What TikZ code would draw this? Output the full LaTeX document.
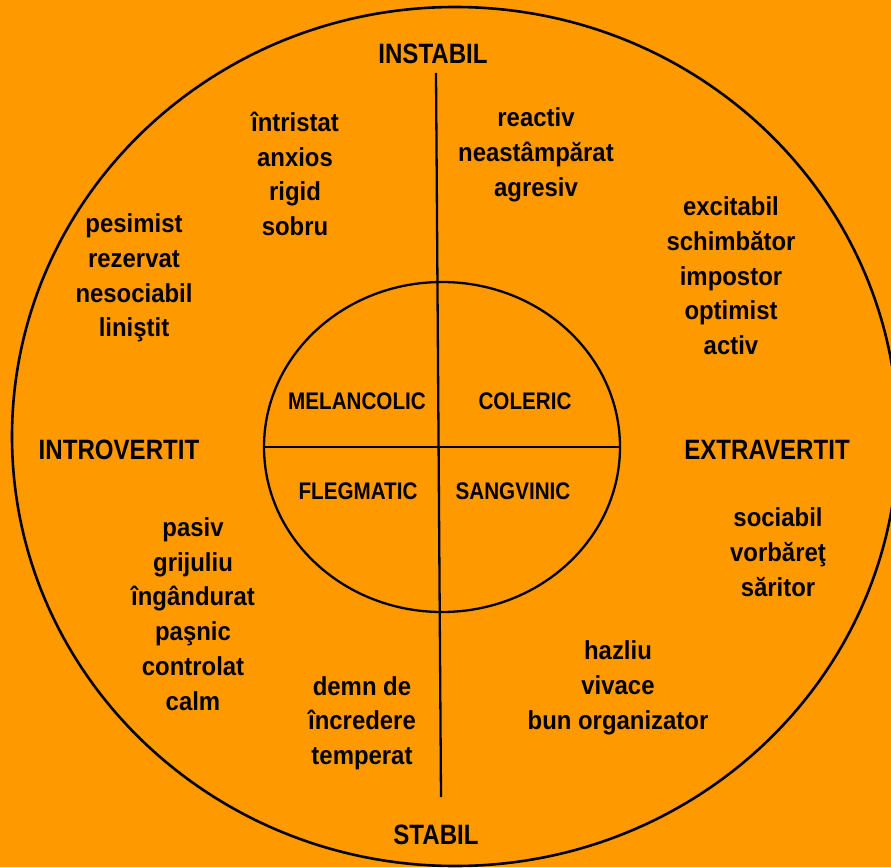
\documentclass[tikz,border=0pt]{standalone}
\usepackage{fontspec}
\setmainfont{Liberation Sans}
\newfontfamily\fontlista{Liberation Sans}[FakeStretch=0.92]
\newfontfamily\fonttitlu{Liberation Sans}[FakeStretch=0.86]
\usetikzlibrary{shapes.geometric}
\definecolor{portocaliu}{RGB}{255,153,0}

\begin{document}
\begin{tikzpicture}[
  x=1pt, y=-1pt,
  axa/.style={inner sep=0pt, font=\fonttitlu\bfseries\fontsize{28}{34}\selectfont},
  temperament/.style={inner sep=0pt, font=\fonttitlu\bfseries\fontsize{24}{30}\selectfont},
  trasaturi/.style={inner sep=0pt, align=center,
    font=\fontlista\bfseries\fontsize{26}{34.7}\selectfont},
  cerc/.style={draw, ellipse, inner sep=0pt},
  linie/.style={line width=2.3pt}
]
  \useasboundingbox (0,0) rectangle (891,867);
  \fill[portocaliu] (0,0) rectangle (891,867);

  \node[cerc, line width=2.6pt, minimum width=886pt, minimum height=859pt] (cercmare) at (455,436.5) {};
  \node[cerc, linie, minimum width=356pt, minimum height=330pt] (cercmic) at (442,447) {};
  \coordinate (sus) at (436,73);
  \coordinate (jos) at (441,797);
  \draw[linie] (sus) -- (jos);
  \draw[linie] (cercmic.west) -- (cercmic.east);

  \node[axa] (instabil) at (433,54) {INSTABIL};
  \node[axa] (stabil) at (436,835) {STABIL};
  \node[axa] (introvertit) at (119,450) {INTROVERTIT};
  \node[axa] (extravertit) at (767,450) {EXTRAVERTIT};

  \node[temperament] (melancolic) at (357,401) {MELANCOLIC};
  \node[temperament] (coleric) at (525,401) {COLERIC};
  \node[temperament] (flegmatic) at (358,491) {FLEGMATIC};
  \node[temperament] (sangvinic) at (513,491) {SANGVINIC};

  \node[trasaturi] (trist) at (295,174) {întristat\\anxios\\rigid\\sobru};
  \node[trasaturi] (reactiv) at (536,155) {reactiv\\neastâmpărat\\agresiv};
  \node[trasaturi] (pesimist) at (134,278) {pesimist\\rezervat\\nesociabil\\liniştit};
  \node[trasaturi] (excitabil) at (731,276) {excitabil\\schimbător\\impostor\\optimist\\activ};
  \node[trasaturi] (sociabil) at (778,552) {sociabil\\vorbăreţ\\săritor};
  \node[trasaturi] (pasiv) at (193,614) {pasiv\\grijuliu\\îngândurat\\paşnic\\controlat\\calm};
  \node[trasaturi] (demn) at (362,723) {demn de\\încredere\\temperat};
  \node[trasaturi] (hazliu) at (618,688) {hazliu\\vivace\\bun organizator};
\end{tikzpicture}
\end{document}
